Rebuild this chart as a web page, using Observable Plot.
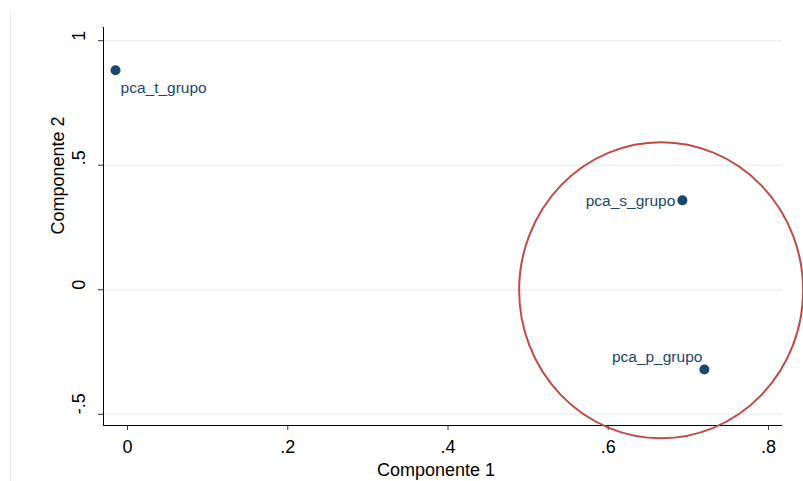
<!DOCTYPE html>
<html>
<head>
<meta charset="utf-8">
<script src="https://cdn.jsdelivr.net/npm/d3@7"></script>
<script src="https://cdn.jsdelivr.net/npm/@observablehq/plot@0.6"></script>
<style>
  html, body { margin: 0; padding: 0; background: #fff; }
  #wrap { position: relative; width: 803px; height: 481px; overflow: hidden; }
  #edge { position: absolute; left: 10px; top: 10px; width: 1px; height: 471px; background: #e8f0f2; }
  #chart { position: absolute; left: 0; top: 0; }
</style>
</head>
<body>
<div id="wrap"><div id="edge"></div><div id="chart"></div></div>
<script>
// Loadings of the first two principal components
const variables = ["pca_t_grupo", "pca_s_grupo", "pca_p_grupo"];
const comp1 = [-0.015, 0.6925, 0.72];
const comp2 = [0.881, 0.359, -0.32];

const xTicks = [0, 0.2, 0.4, 0.6, 0.8];
const yTicks = [-0.5, 0, 0.5, 1];

// Highlight ring around the grouped variables
const ringCenter = [0.666, -0.002];

const points = variables.map((v, i) => ({name: v, x: comp1[i], y: comp2[i]}));

const fmt = d => d === 0 ? "0" : String(d).replace(/^(-?)0\./, "$1.");
const font = "'Liberation Sans', Arial, Helvetica, sans-serif";
const navy = "#1a476f";

// label placement for each variable (clock-style offsets)
const labelOpts = {
  pca_t_grupo: {textAnchor: "start", dx: 5, dy: 18},
  pca_s_grupo: {textAnchor: "end", dx: -7, dy: 1},
  pca_p_grupo: {textAnchor: "end", dx: -2, dy: -12}
};

const xDomain = [-0.03, 0.8175];
const yDomain = [-0.545, 1.053];

const chart = Plot.plot({
  width: 803,
  height: 481,
  marginLeft: 103,
  marginRight: 21,
  marginTop: 27,
  marginBottom: 56,
  style: {fontFamily: font, background: "transparent"},
  x: {domain: xDomain},
  y: {domain: yDomain},
  marks: [
    Plot.ruleY(yTicks, {y: d => d, stroke: "#eaf2f3", strokeWidth: 1.6}),
    Plot.ruleX([xDomain[0]], {stroke: "#000", strokeWidth: 1}),
    Plot.ruleY([yDomain[0]], {stroke: "#000", strokeWidth: 1}),
    Plot.axisX({ticks: xTicks, tickFormat: fmt, tickSize: 5, tickPadding: 10, fontSize: 18, stroke: "#333", fill: "#000", label: null}),
    Plot.axisY({ticks: yTicks, tickSize: 5, tickFormat: () => "", label: null, stroke: "#333"}),
    Plot.text(yTicks, {y: d => d, text: fmt, frameAnchor: "left", rotate: -90, dx: -24, lineAnchor: "middle", fontSize: 18, fill: "#000"}),
    Plot.text(["Componente 1"], {frameAnchor: "bottom", dx: -7, dy: 50, lineAnchor: "bottom", fontSize: 18, fill: "#000"}),
    Plot.text(["Componente 2"], {frameAnchor: "left", dx: -45, dy: 8, rotate: -90, lineAnchor: "middle", fontSize: 18, fill: "#000"}),
    Plot.dot([ringCenter], {x: d => d[0], y: d => d[1], r: 142, fill: "none", stroke: "#c24a47", strokeWidth: 2, clip: false, className: "ring"}),
    Plot.dot(points, {x: "x", y: "y", r: 5, fill: navy, stroke: "none"}),
    ...variables.map(v => Plot.text(points.filter(p => p.name === v), {
      x: "x", y: "y", text: "name", fill: navy, fontSize: 15.5, lineAnchor: "middle", ...labelOpts[v]
    }))
  ]
});

// stretch the ring slightly vertically into an ellipse
d3.select(chart).selectAll(".ring circle").each(function() {
  const c = d3.select(this);
  let cx = +c.attr("cx") || 0, cy = +c.attr("cy") || 0;
  const t = c.attr("transform");
  const m = t && t.match(/translate\(([-\d.]+),\s*([-\d.]+)\)/);
  if (m) { cx += +m[1]; cy += +m[2]; }
  c.attr("transform", `translate(${cx},${cy}) scale(1,1.042)`).attr("cx", 0).attr("cy", 0)
   .attr("vector-effect", "non-scaling-stroke");
});

document.getElementById("chart").appendChild(chart);
</script>
</body>
</html>
